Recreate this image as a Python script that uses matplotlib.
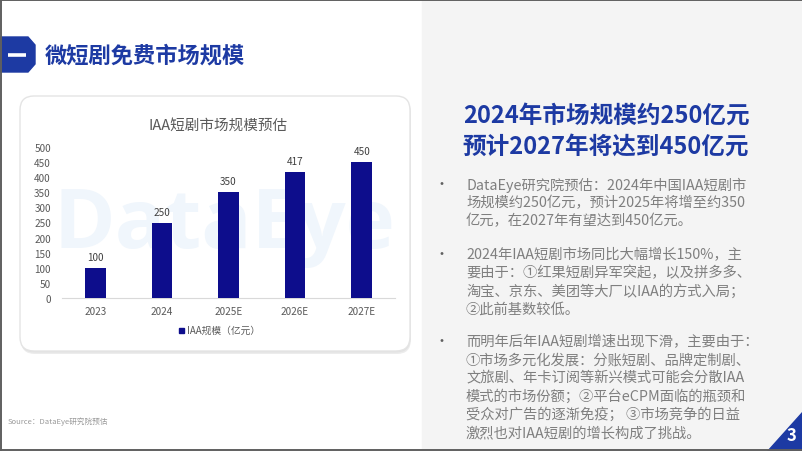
"""
Slide: 微短剧免费市场规模 - IAA short drama market size bar chart with commentary.
"""
import matplotlib

matplotlib.use("Agg")
import matplotlib.pyplot as plt
from matplotlib.patches import FancyBboxPatch, Polygon, Rectangle

plt.rcParams["font.family"] = ["Noto Sans CJK SC", "DejaVu Sans"]

W, H = 802, 452

years = ["2023", "2024", "2025E", "2026E", "2027E"]
market_size = [100, 250, 350, 417, 450]
y_ticks = [0, 50, 100, 150, 200, 250, 300, 350, 400, 450, 500]

page_title = "微短剧免费市场规模"
chart_title = "IAA短剧市场规模预估"
legend_label = "IAA规模（亿元）"
headline = ["2024年市场规模约250亿元", "预计2027年将达到450亿元"]
bullets = [
    [
        "DataEye研究院预估：2024年中国IAA短剧市",
        "场规模约250亿元，预计2025年将增至约350",
        "亿元，在2027年有望达到450亿元。",
    ],
    [
        "2024年IAA短剧市场同比大幅增长150%，主",
        "要由于：①红果短剧异军突起，以及拼多多、",
        "淘宝、京东、美团等大厂以IAA的方式入局；",
        "②此前基数较低。",
    ],
    [
        "而明年后年IAA短剧增速出现下滑，主要由于：",
        "①市场多元化发展：分账短剧、品牌定制剧、",
        "文旅剧、年卡订阅等新兴模式可能会分散IAA",
        "模式的市场份额；②平台eCPM面临的瓶颈和",
        "受众对广告的逐渐免疫； ③市场竞争的日益",
        "激烈也对IAA短剧的增长构成了挑战。",
    ],
]
source_text = "Source：DataEye研究院预估"
page_no = "3"

BLUE = "#1d3aa3"
BAR = "#0d0d8c"
GREY_TXT = "#7f7f7f"

fig = plt.figure(figsize=(W / 100, H / 100), dpi=100)
bg = fig.add_axes([0, 0, 1, 1])
bg.set_xlim(0, W)
bg.set_ylim(H, 0)
bg.axis("off")

# right panel and slide border
bg.add_patch(Rectangle((422, 0), W - 422, H, color="#f4f4f4", zorder=0))
bg.plot([0, W], [0.8, 0.8], color="#5f5f5f", lw=1.4, zorder=5)
bg.plot([0.8, 0.8], [0, H], color="#5f5f5f", lw=1.4, zorder=5)
bg.plot([0, W], [H - 0.8, H - 0.8], color="#5f5f5f", lw=1.4, zorder=5)

# title tab
bg.add_patch(Polygon([(0, 38), (28, 38), (35, 46), (35, 65), (28, 73), (0, 73)],
                     closed=True, color=BLUE, zorder=2))
bg.plot([8, 26], [56, 56], color="white", lw=2.6, solid_capstyle="butt", zorder=3)
bg.text(45, 56, page_title, fontsize=16, fontweight="bold", color=BLUE,
        va="center", ha="left", zorder=3)

# chart card with soft shadow
for off, col in [(3, "#ececec"), (1.5, "#e2e2e2")]:
    bg.add_patch(FancyBboxPatch((20 + off * 0.3, 97 + off), 390, 255,
                                boxstyle="round,pad=0,rounding_size=14",
                                facecolor=col, edgecolor="none", zorder=1))
bg.add_patch(FancyBboxPatch((20, 97), 390, 255, boxstyle="round,pad=0,rounding_size=14",
                            facecolor="white", edgecolor="#e4e4e4", lw=1.0, zorder=2))
# faint watermark
bg.text(224, 226, "DataEye", fontsize=60, color="#f0f6fc", family="Open Sans",
        fontweight="bold", ha="center", va="center", zorder=2.5)
bg.text(218, 126, chart_title, fontsize=10.5, color="#595959", ha="center", va="center", zorder=3)

# legend
bg.add_patch(Rectangle((179, 328.5), 5, 5, color=BAR, zorder=3))
bg.text(187, 331, legend_label, fontsize=7, color="#595959", ha="left", va="center", zorder=3)

# bar chart
ax = fig.add_axes([62 / W, 1 - 299 / H, 333 / W, 151 / H])
ax.patch.set_alpha(0)
x = list(range(len(years)))
ax.bar(x, market_size, width=0.31, color=BAR, zorder=3)
for xi, v in zip(x, market_size):
    ax.text(xi, v + 36, str(v), fontsize=7.2, color="#404040", ha="center", va="center")
ax.set_xlim(-0.5, len(years) - 0.5)
ax.set_ylim(0, 500)
ax.set_yticks(y_ticks)
ax.set_xticks(x)
ax.set_xticklabels(years)
ax.tick_params(axis="both", length=0, labelsize=7.2, labelcolor="#595959")
ax.tick_params(axis="y", pad=8)
ax.tick_params(axis="x", pad=6)
for side in ["top", "right", "left"]:
    ax.spines[side].set_visible(False)
ax.spines["bottom"].set_color("#d9d9d9")
ax.spines["bottom"].set_linewidth(0.8)

# right panel text
bg.text(606, 116, headline[0], fontsize=17, fontweight="bold", color=BLUE, ha="center", va="center")
bg.text(606, 147, headline[1], fontsize=17, fontweight="bold", color=BLUE, ha="center", va="center")

starts = [185, 255, 342]
for y0, lines in zip(starts, bullets):
    bg.text(442, y0, "•", fontsize=10, color="#606060", ha="center", va="center")
    for k, line in enumerate(lines):
        bg.text(466, y0 + k * 18.2, line, fontsize=10.3, color=GREY_TXT, ha="left", va="center")

# source and page number
bg.text(8, 422, source_text, fontsize=5.5, color="#9a9a9a", ha="left", va="center")
bg.add_patch(Polygon([(767, H), (W, H), (W, 413)], closed=True, color=BLUE, zorder=4))
bg.text(791, 436, page_no, fontsize=12, fontweight="bold", color="white", ha="center", va="center", zorder=5)

fig.savefig("out.png", dpi=100)
